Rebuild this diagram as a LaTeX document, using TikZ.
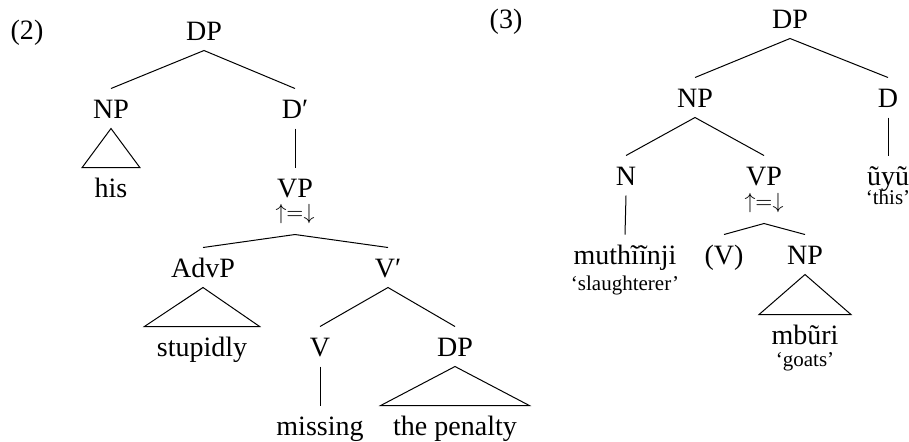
\documentclass[tikz,border=0pt]{standalone}
\usepackage{fontspec}
\setmainfont{Liberation Serif}
\tikzset{
    cat/.style={font=\fontsize{14}{16}\selectfont, inner sep=0pt, text height=14.5pt, text depth=5pt, anchor=base},
    ann/.style={font=\fontsize{11}{13}\selectfont, inner sep=0pt, text height=6pt, text depth=7.5pt, anchor=base},
    gloss/.style={font=\fontsize{10.5}{12}\selectfont, inner sep=0pt, anchor=base},
    tri/.style={xshift=#1}
}

\begin{document}
\begin{tikzpicture}[x=0.5pt, y=-0.5pt, line width=0.5pt]
    \useasboundingbox (0,0) rectangle (909,441);
    \node[cat] (lblA) at (27,39) {(2)};
    \node[cat] (dpA) at (204,40) {DP};
    \node[cat] (npA) at (111,118) {NP};
    \node[cat] (dbA) at (295,118) {D′};
    \node[cat] (hisA) at (111,197) {his};
    \node[cat] (vpA) at (295,197) {VP};
    \node[ann] (eqA) at (295,219) {$\uparrow=\downarrow$};
    \node[cat] (advA) at (203,277) {AdvP};
    \node[cat] (vbA) at (388,277) {V′};
    \node[cat] (stupA) at (202,356) {stupidly};
    \node[cat] (vA) at (320,356) {V};
    \node[cat] (dpbA) at (455,356) {DP};
    \node[cat] (missA) at (320,435) {missing};
    \node[cat] (penA) at (455,435) {the penalty};
    \draw (npA.north) -- (dpA.south) -- (dbA.north);
    \draw (dbA.south) -- (vpA.north);
    \draw (advA.north) -- (eqA.south) -- (vbA.north);
    \draw (vA.north) -- (vbA.south) -- (dpbA.north);
    \draw (vA.south) -- (missA.north);
    \draw (npA.south) -- ([tri=-6pt]hisA.north west) -- ([tri=6pt]hisA.north east) -- cycle;
    \draw (advA.south) -- ([tri=-6pt]stupA.north west) -- ([tri=6pt]stupA.north east) -- cycle;
    \draw (dpbA.south) -- ([tri=-6pt]penA.north west) -- ([tri=6pt]penA.north east) -- cycle;

    \node[cat] (lblB) at (506,28) {(3)};
    \node[cat] (dpB) at (790,28) {DP};
    \node[cat] (npB) at (695,107) {NP};
    \node[cat] (dB) at (888,107) {D};
    \node[cat] (nB) at (626,185) {N};
    \node[cat] (vpB) at (764,185) {VP};
    \node[cat] (uyuB) at (888,185) {ũyũ};
    \node[gloss] (thisB) at (888,204) {‘this’};
    \node[ann] (eqB) at (764,208) {$\uparrow=\downarrow$};
    \node[cat] (muthB) at (625,264) {muthĩĩnji};
    \node[gloss] (slB) at (625,290) {‘slaughterer’};
    \node[cat] (vB) at (724,264) {(V)};
    \node[cat] (npbB) at (805,264) {NP};
    \node[cat] (mbB) at (805,344) {mbũri};
    \node[gloss] (goatsB) at (805,366) {‘goats’};
    \draw (npB.north) -- (dpB.south) -- (dB.north);
    \draw (nB.north) -- (npB.south) -- (vpB.north);
    \draw (dB.south) -- (uyuB.north);
    \draw (nB.south) -- (muthB.north);
    \draw (vB.north) -- (eqB.south) -- (npbB.north);
    \draw (npbB.south) -- ([tri=-6pt]mbB.north west) -- ([tri=6pt]mbB.north east) -- cycle;
\end{tikzpicture}
\end{document}
